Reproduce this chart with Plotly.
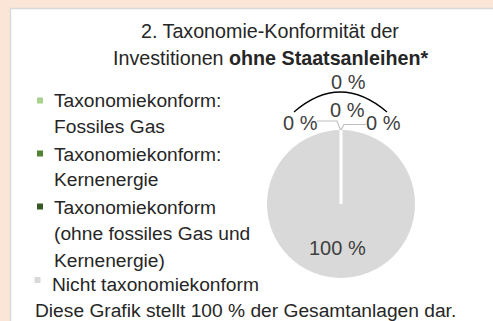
import plotly.graph_objects as go

# ---- data ----
categories = [
    "Taxonomiekonform: Fossiles Gas",
    "Taxonomiekonform: Kernenergie",
    "Taxonomiekonform (ohne fossiles Gas und Kernenergie)",
    "Nicht taxonomiekonform",
]
values = [0, 0, 0, 100]
colors = ["#A9D18E", "#548235", "#385723", "#D9D9D9"]

legend_lines = [
    ["Taxonomiekonform:", "Fossiles Gas"],
    ["Taxonomiekonform:", "Kernenergie"],
    ["Taxonomiekonform", "(ohne fossiles Gas und", "Kernenergie)"],
    ["Nicht taxonomiekonform"],
]
title_lines = ["2. Taxonomie-Konformität der",
               "Investitionen <b>ohne Staatsanleihen*</b>"]
footer = "Diese Grafik stellt 100 % der Gesamtanlagen dar."

# ---- layout helpers (pixel -> paper) ----
W, H = 493, 321
FONT = "Arial, Liberation Sans, sans-serif"
TXT = "#262626"
FS = 19.2
FS_TITLE = 19.7
FS_LBL = 20


def px(x):
    return x / W


def py(y):
    return 1 - y / H


# pie geometry
cx, cy, r = 341, 204, 74

fig = go.Figure(go.Pie(
    labels=categories,
    values=values,
    marker=dict(colors=colors, line=dict(width=0)),
    sort=False,
    direction="clockwise",
    rotation=0,
    textinfo="none",
    hoverinfo="label+percent",
    showlegend=False,
    domain=dict(x=[px(cx - r), px(cx + r)], y=[py(cy + r), py(cy - r)]),
))

shapes = [
    # white panel with grey frame
    dict(type="rect", xref="paper", yref="paper", layer="below",
         x0=px(10.5), y0=py(8.5), x1=px(W + 20), y1=py(H + 20),
         fillcolor="white", line=dict(color="#D9D9D9", width=1.5)),
    # slice seam at the start angle (zero slices sit at 12 o'clock)
    dict(type="line", xref="paper", yref="paper",
         x0=px(cx), y0=py(cy), x1=px(cx), y1=py(cy - r),
         line=dict(color="white", width=3)),
    # bracket over the taxonomy-conform slices
    dict(type="path", xref="paper", yref="paper",
         path=f"M {px(294)},{py(112)} Q {px(340)},{py(72)} {px(387)},{py(112)}",
         line=dict(color="#000000", width=1.3)),
    # leader lines
    dict(type="path", xref="paper", yref="paper",
         path=f"M {px(317)},{py(121)} L {px(337)},{py(121)} L {px(340.5)},{py(130)}",
         line=dict(color="#BFBFBF", width=1.2)),
    dict(type="path", xref="paper", yref="paper",
         path=f"M {px(366)},{py(124.5)} L {px(344)},{py(124.5)} L {px(341)},{py(130)}",
         line=dict(color="#BFBFBF", width=1.2)),
]

annotations = []


def add_text(text, x, y, xanchor="left", size=FS, color=TXT):
    annotations.append(dict(
        text=text, xref="paper", yref="paper", x=px(x), y=py(y),
        xanchor=xanchor, yanchor="middle", showarrow=False,
        font=dict(family=FONT, size=size, color=color)))


# title
add_text(title_lines[0], 270, 31, xanchor="center", size=FS_TITLE)
add_text(title_lines[1], 270, 58, xanchor="center", size=FS_TITLE)

# legend
line_y = [[101, 127], [154, 180], [207, 233, 260], [284]]
text_x = [52, 52, 52, 50]
marker_c = [(40, 100.5), (40, 153.5), (40, 206.5), (37.5, 280)]
for lines, ys, tx, (mx, my), col in zip(legend_lines, line_y, text_x, marker_c, colors):
    for t, y in zip(lines, ys):
        add_text(t, tx, y)
    shapes.append(dict(type="rect", xref="paper", yref="paper",
                       x0=px(mx - 3), x1=px(mx + 3), y0=py(my - 3), y1=py(my + 3),
                       fillcolor=col, line=dict(width=0)))

add_text(footer, 33, 310)

# value labels
LBL = "#404040"
add_text(f"{sum(values[:3])} %", 348, 82, xanchor="center", size=FS_LBL, color=LBL)
add_text(f"{values[0]} %", 300, 123, xanchor="center", size=FS_LBL, color=LBL)
add_text(f"{values[1]} %", 347, 110, xanchor="center", size=FS_LBL, color=LBL)
add_text(f"{values[2]} %", 383, 123, xanchor="center", size=FS_LBL, color=LBL)
add_text(f"{values[3]} %", 337, 248, xanchor="center", size=FS_LBL, color=LBL)

fig.update_layout(
    width=W, height=H,
    margin=dict(l=0, r=0, t=0, b=0),
    paper_bgcolor="#FBE5D6",
    shapes=shapes,
    annotations=annotations,
    showlegend=False,
)

fig.write_html("out.html")
